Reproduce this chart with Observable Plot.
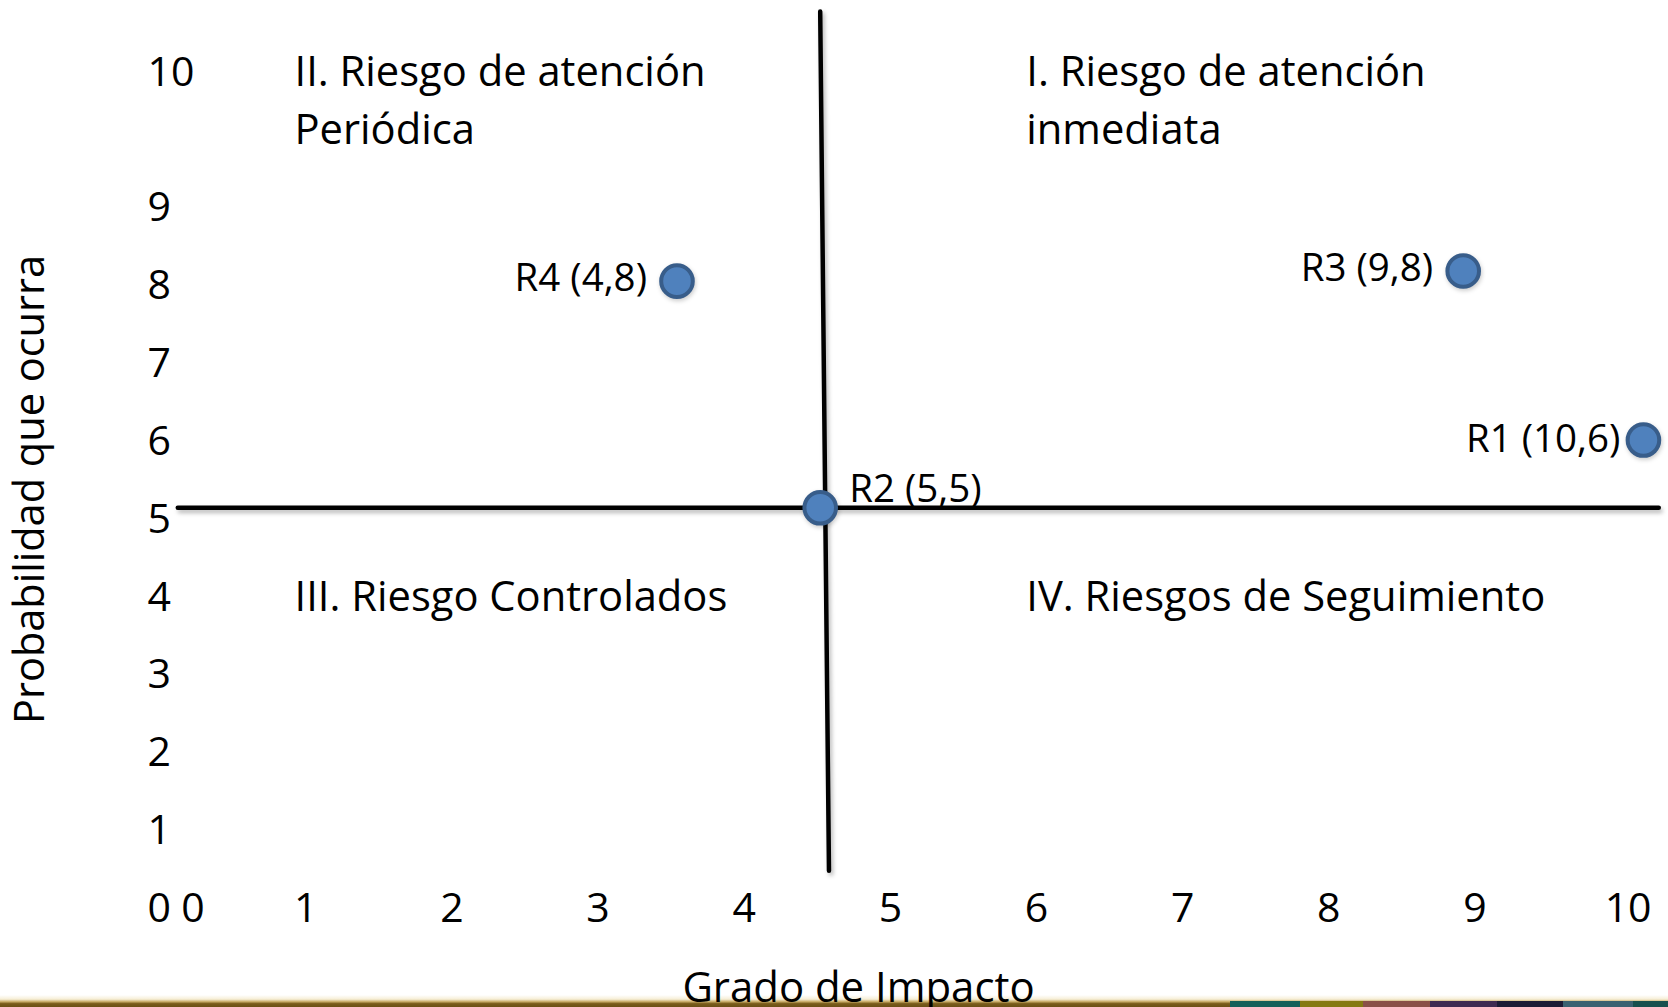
<!DOCTYPE html>
<html>
<head>
<meta charset="utf-8">
<script src="https://cdn.jsdelivr.net/npm/d3@7"></script>
<script src="https://cdn.jsdelivr.net/npm/@observablehq/plot@0.6"></script>
<style>
  html, body { margin: 0; padding: 0; background: #ffffff; }
  #wrap { position: relative; width: 1668px; height: 1007px; overflow: hidden; background: #fff; }
  #bar { position: absolute; left: 0; bottom: 0; width: 1668px; height: 12px;
    background: linear-gradient(to bottom, rgba(255,252,240,0) 0%, #f6eed6 35%, #c9ad6a 55%, #7a5c1a 72%, #6a5016 100%); }
  #bar2 { position: absolute; left: 1230px; bottom: 0; width: 438px; height: 6px;
    background: linear-gradient(to right, #15605a 0px, #15605a 70px, #857a12 70px, #857a12 133px, #8a5048 133px, #8a5048 200px, #3e2a52 200px, #3e2a52 267px, #1b1b36 267px, #1b1b36 333px, #3a6272 333px, #3a6272 403px, #17504e 403px); }
  #chart { position: absolute; left: 0; top: 0; }
</style>
</head>
<body>
<div id="wrap"><div id="bar"></div><div id="bar2"></div><div id="chart"></div></div>
<script>
// ---- data ----
const xTicks = [0, 1, 2, 3, 4, 5, 6, 7, 8, 9, 10];
const yTicks = [0, 1, 2, 3, 4, 5, 6, 7, 8, 9, 10];

const riskNames  = ["R1", "R2", "R3", "R4"];
const riskLabels = ["R1 (10,6)", "R2 (5,5)", "R3 (9,8)", "R4 (4,8)"];
// positions as drawn in the picture (read against the axis ticks)
const riskX = [10.10, 4.52, 8.92, 3.54];
const riskY = [6.02, 5.15, 8.19, 8.06];

const hLineX = [-0.135, 10.2];
const hLineY = [5.15, 5.15];
const vLineX = [4.52, 4.58];
const vLineY = [10.45, 0.49];

const quadrantLabels = [
  "I. Riesgo de atención\ninmediata",
  "II. Riesgo de atención\nPeriódica",
  "III. Riesgo Controlados",
  "IV. Riesgos de Seguimiento"
];
const quadrantX = [5.93, 0.9, 0.9, 5.93];
const quadrantY = [10, 10, 4, 4];

const xTitle = "Grado de Impacto";
const yTitle = "Probabilidad que ocurra";

// ---- build ----
const risks = riskNames.map((n, i) => ({name: n, label: riskLabels[i], x: riskX[i], y: riskY[i]}));
const hLine = hLineX.map((x, i) => ({x, y: hLineY[i]}));
const vLine = vLineX.map((x, i) => ({x, y: vLineY[i]}));
const quads = quadrantLabels.map((t, i) => ({text: t, x: quadrantX[i], y: quadrantY[i]}));

const FONT = "Open Sans";
const TICK = 41;
const QUAD = 41.7;
const LAB = 38.5;

const chart = Plot.plot({
  width: 1668,
  height: 1007,
  marginLeft: 147,
  marginRight: 99,
  marginTop: 10,
  marginBottom: 39,
  x: {type: "linear", domain: [0, 1, 9, 10], range: [192.5, 305.3, 1474.4, 1627.6], axis: null},
  y: {type: "linear", domain: [0, 9, 10], range: [908.5, 207.4, 72], axis: null},
  style: {fontFamily: FONT, background: "transparent", overflow: "visible", color: "#000"},
  marks: [
    Plot.line(hLine, {x: "x", y: "y", stroke: "#000", strokeWidth: 4.5}),
    Plot.line(vLine, {x: "x", y: "y", stroke: "#000", strokeWidth: 4.5}),
    Plot.text(xTicks, {x: d => d, y: () => 0, text: d => String(d), fontSize: TICK, fill: "#000"}),
    Plot.text(yTicks, {y: d => d, frameAnchor: "left", textAnchor: "start", text: d => String(d), fontSize: TICK, fill: "#000"}),
    Plot.text(quads, {x: "x", y: "y", text: "text", textAnchor: "start", lineAnchor: "top", dy: -28, lineHeight: 1.39, fontSize: QUAD, fill: "#000"}),
    Plot.dot(risks, {x: "x", y: "y", r: 15.8, fill: "#4f81bd", stroke: "#385d8a", strokeWidth: 4}),
    Plot.text(risks.filter(d => d.name === "R3" || d.name === "R4"), {x: "x", y: "y", text: "label", textAnchor: "end", dx: -30, dy: -2.5, fontSize: LAB, fill: "#000"}),
    Plot.text(risks.filter(d => d.name === "R1"), {x: "x", y: "y", text: "label", textAnchor: "end", dx: -23, fontSize: LAB, fill: "#000"}),
    Plot.text(risks.filter(d => d.name === "R2"), {x: "x", y: "y", text: "label", textAnchor: "start", dx: 29, dy: -18, fontSize: LAB, fill: "#000"}),
    Plot.text([xTitle], {frameAnchor: "bottom", textAnchor: "middle", text: d => d, dy: 33.5, fontSize: 41.9, fill: "#000"}),
    Plot.text([yTitle], {frameAnchor: "left", textAnchor: "middle", text: d => d, rotate: -90, dx: -117, fontSize: 41.5, fill: "#000"})
  ]
});

d3.select(chart).selectAll('g[aria-label="line"]').style("filter", "drop-shadow(2px 3px 2px rgba(0,0,0,0.28))");
d3.select(chart).selectAll('g[aria-label="dot"]').style("filter", "drop-shadow(1px 2px 2px rgba(0,0,0,0.2))");
document.getElementById("chart").appendChild(chart);
</script>
</body>
</html>
